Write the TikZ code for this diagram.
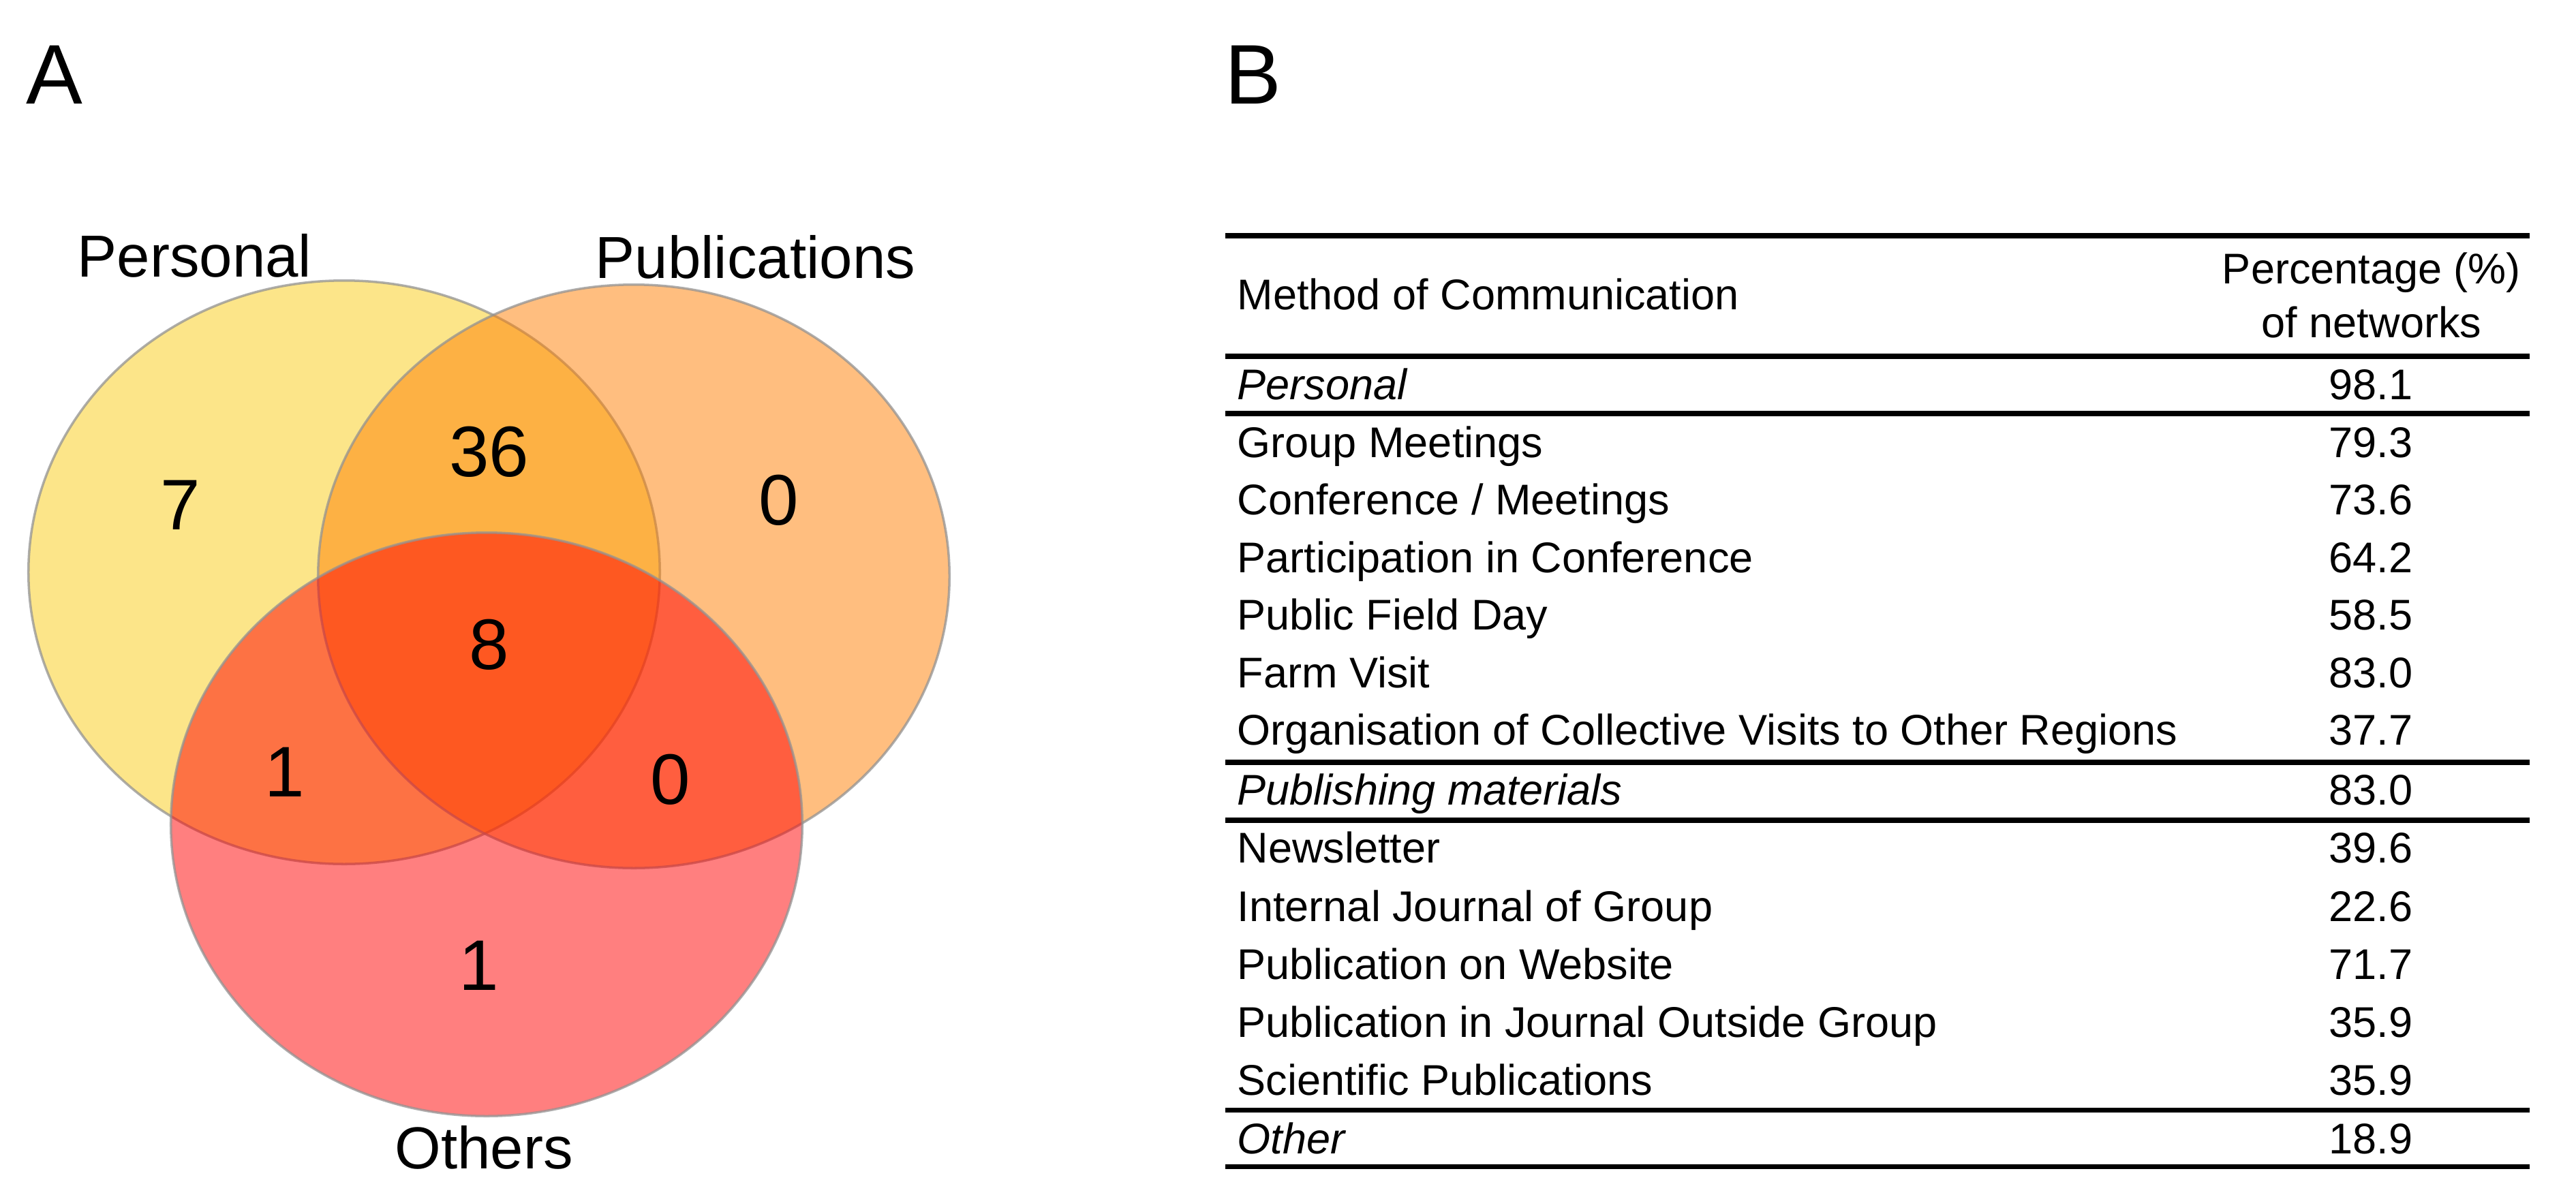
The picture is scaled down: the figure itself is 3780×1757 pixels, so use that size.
\documentclass[tikz,border=0pt]{standalone}
\usepackage{fontspec}
\setmainfont{Liberation Sans}
\usetikzlibrary{shapes.geometric}
\definecolor{cpers}{RGB}{251,205,21}
\definecolor{cpub}{RGB}{255,127,0}
\definecolor{coth}{RGB}{255,0,0}
\begin{document}
\begin{tikzpicture}[x=0.01cm,y=-0.01cm,
  venn/.style={ellipse, inner sep=0pt, outer sep=0pt, minimum width=9.26cm, minimum height=8.56cm,
    fill opacity=0.5, draw=gray!85, draw opacity=0.75, line width=1pt},
  panel/.style={anchor=base west, inner sep=0pt, font=\fontsize{35.3}{40}\selectfont},
  lab/.style={anchor=base west, inner sep=0pt, font=\fontsize{24.75}{28}\selectfont},
  num/.style={anchor=base, inner sep=0pt, font=\fontsize{29.9}{34}\selectfont},
  tabtxt/.style={anchor=base west, inner sep=0pt, font=\fontsize{17.93}{21}\selectfont},
  tabnum/.style={anchor=base, inner sep=0pt, font=\fontsize{17.93}{21}\selectfont},
  tabline/.style={line width=2pt, black}]
\useasboundingbox (0,0) rectangle (3780,1757);
\fill[white] (0,0) rectangle (3780,1757);

% panel letters
\node[panel] (pA) at (38,152) {A};
\node[panel] (pB) at (1797,152) {B};

% Venn ellipses
\node[venn, fill=cpers] (pers) at (505,840) {};
\node[venn, fill=cpub] (pub) at (930,846) {};
\node[venn, fill=coth] (oth) at (714,1210) {};

% set labels
\node[lab] (lpers) at (113,406) {Personal};
\node[lab] (lpub) at (873,408) {Publications};
\node[lab, anchor=base] (loth) at (710,1715) {Others};

% counts
\node[num] (n7) at (265,777) {7};
\node[num] (n36) at (718,699) {36};
\node[num] (n0a) at (1143,770) {0};
\node[num] (n8) at (718,982) {8};
\node[num] (n1a) at (418,1169) {1};
\node[num] (n0b) at (984,1180) {0};
\node[num] (n1b) at (703,1453) {1};

% table rules
\draw[tabline] (1798,346) -- (3712,346);
\draw[tabline] (1798,523) -- (3712,523);
\draw[tabline] (1798,607) -- (3712,607);
\draw[tabline] (1798,1119) -- (3712,1119);
\draw[tabline] (1798,1204) -- (3712,1204);
\draw[tabline] (1798,1629) -- (3712,1629);
\draw[tabline] (1798,1712) -- (3712,1712);

% header
\node[tabtxt] (h1) at (1815,454) {Method of Communication};
\node[tabnum] (h2a) at (3480,416) {Percentage (\%)};
\node[tabnum] (h2b) at (3480,495) {of networks};

% rows
\node[tabtxt] (r1) at (1815,586) {\itshape Personal};
\node[tabnum] (v1) at (3479,586) {98.1};
\node[tabtxt] (r2) at (1815,671) {Group Meetings};
\node[tabnum] (v2) at (3479,671) {79.3};
\node[tabtxt] (r3) at (1815,755) {Conference / Meetings};
\node[tabnum] (v3) at (3479,755) {73.6};
\node[tabtxt] (r4) at (1815,840) {Participation in Conference};
\node[tabnum] (v4) at (3479,840) {64.2};
\node[tabtxt] (r5) at (1815,924) {Public Field Day};
\node[tabnum] (v5) at (3479,924) {58.5};
\node[tabtxt] (r6) at (1815,1009) {Farm Visit};
\node[tabnum] (v6) at (3479,1009) {83.0};
\node[tabtxt] (r7) at (1815,1093) {Organisation of Collective Visits to Other Regions};
\node[tabnum] (v7) at (3479,1093) {37.7};
\node[tabtxt] (r8) at (1815,1181) {\itshape Publishing materials};
\node[tabnum] (v8) at (3479,1181) {83.0};
\node[tabtxt] (r9) at (1815,1266) {Newsletter};
\node[tabnum] (v9) at (3479,1266) {39.6};
\node[tabtxt] (r10) at (1815,1352) {Internal Journal of Group};
\node[tabnum] (v10) at (3479,1352) {22.6};
\node[tabtxt] (r11) at (1815,1437) {Publication on Website};
\node[tabnum] (v11) at (3479,1437) {71.7};
\node[tabtxt] (r12) at (1815,1522) {Publication in Journal Outside Group};
\node[tabnum] (v12) at (3479,1522) {35.9};
\node[tabtxt] (r13) at (1815,1607) {Scientific Publications};
\node[tabnum] (v13) at (3479,1607) {35.9};
\node[tabtxt] (r14) at (1815,1693) {\itshape Other};
\node[tabnum] (v14) at (3479,1693) {18.9};
\end{tikzpicture}
\end{document}
